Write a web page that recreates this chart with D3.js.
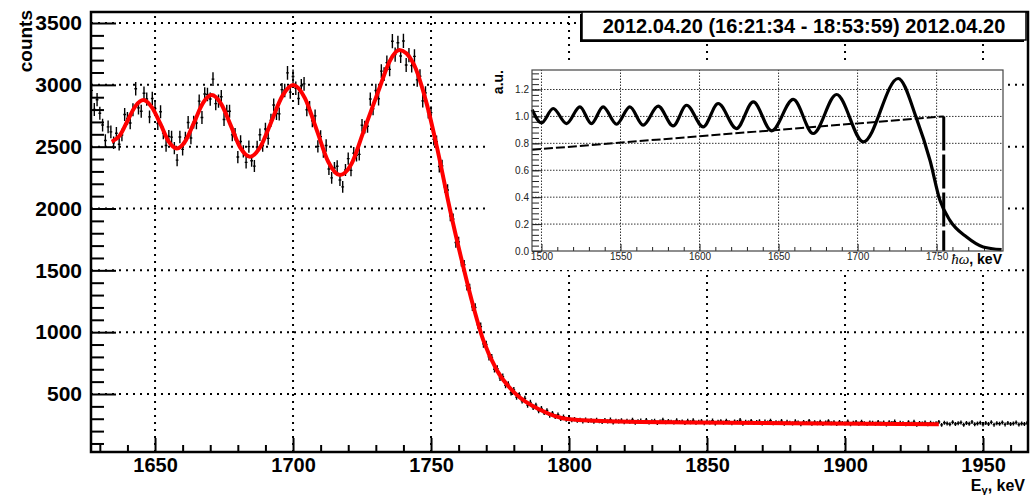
<!DOCTYPE html>
<html>
<head>
<meta charset="utf-8">
<script src="https://cdnjs.cloudflare.com/ajax/libs/d3/7.8.5/d3.min.js"></script>
<style>
    body { margin: 0; background: #fff; }
    svg { display: block; font-family: "Liberation Sans", Arial, Helvetica, sans-serif; }
</style>
</head>
<body>
<svg id="chart" width="1034" height="495"></svg>
<script>

// histogram, 1 keV bins, first bin centred at binStart
var binStart = 1627;
var countsData = [
    2955, 2800, 2880, 2770, 2675, 2550, 2660, 2620, 2531, 2608,
    2519, 2594, 2760, 2728, 2692, 2798, 2968, 2814, 2786, 2932,
    2885, 2741, 2890, 2809, 2687, 2782, 2611, 2509, 2583, 2577,
    2488, 2391, 2578, 2478, 2570, 2696, 2570, 2698, 2692, 2868,
    2736, 2926, 2922, 2885, 3046, 2848, 2869, 2904, 2720, 2786,
    2786, 2595, 2600, 2416, 2542, 2462, 2373, 2500, 2386, 2343,
    2497, 2596, 2508, 2643, 2567, 2714, 2837, 2768, 2765, 2961,
    2955, 3097, 2941, 3068, 2973, 2890, 2992, 3008, 2799, 2816,
    2710, 2749, 2502, 2581, 2461, 2510, 2319, 2248, 2327, 2342,
    2230, 2175, 2311, 2403, 2308, 2447, 2430, 2438, 2673, 2658,
    2665, 2885, 2807, 2954, 2887, 3111, 3086, 3180, 3125, 3353,
    3244, 3340, 3233, 3355, 3160, 3240, 3155, 3230, 3040, 3070,
    2870, 2935, 2780, 2775, 2560, 2540, 2340, 2345, 2175, 2150,
    1940, 1915, 1725, 1730, 1570, 1545, 1375, 1355, 1205, 1200,
    1060, 1045, 905, 900, 800, 795, 700, 705, 630, 640,
    570, 580, 510, 533, 475, 492, 445, 465, 410, 432,
    390, 410, 364, 384, 348, 366, 327, 344, 316, 333,
    300, 317, 293, 306,
    288, 296, 284, 291, 279, 293, 282, 287, 276, 290,
    281, 274, 289, 278, 292, 270, 284, 279, 286, 272,
    283, 276, 291, 268, 280, 285, 273, 288, 270, 279,
    284, 266, 277, 290, 271, 282, 275, 269, 286, 273,
    278, 265, 283, 272, 287, 268, 276, 281, 264, 279,
    270, 285, 262, 275, 280, 267, 284, 271, 263, 278,
    273, 288, 260, 276, 269, 282, 266, 274, 279, 261,
    277, 270, 284, 263, 272, 268, 281, 259, 275, 267,
    262, 279, 270, 256, 274, 266, 282, 260, 271, 264,
    276, 258, 269, 280, 263, 271, 257, 274, 266, 262,
    278, 255, 268, 273, 260, 276, 264, 258, 270, 267,
    259, 274, 262, 269, 254, 272, 265, 277, 257, 268,
    263, 256, 271, 260, 275, 252, 266, 262, 270, 255,
    268, 259, 264, 273, 250, 267, 261, 256, 272, 258,
    263, 270, 251, 266, 259, 274, 255, 262, 268, 253,
    265, 258, 271, 252, 264, 260, 269, 254, 266, 257,
    262, 270, 253, 261, 258, 266
];

// red fit curve
var fitEnergy = [1634.3, 1637.2, 1640, 1642.9, 1645.8, 1648.8, 1652, 1654.9, 1657.9, 1661.1,
    1664, 1667.4, 1670.5, 1674, 1677.5, 1680.9, 1684.4, 1688.3, 1692, 1696.2,
    1700.1, 1704.3, 1708.5, 1712.8, 1717, 1721, 1725.5, 1731.5, 1735, 1738.5,
    1743.6, 1748.4, 1752.1, 1756.9, 1761.1, 1764.7, 1768.9, 1773.8, 1780.5, 1789.5,
    1800, 1818, 1844, 1880, 1934];
var fitCounts = [2540, 2589, 2708, 2828, 2877, 2820, 2682, 2543, 2486, 2549,
    2688, 2854, 2917, 2844, 2668, 2492, 2419, 2504, 2694, 2913,
    2998, 2892, 2640, 2376, 2270, 2353, 2620, 2985, 3190, 3281,
    3174, 2850, 2500, 1988, 1583, 1260, 937, 694, 505, 372,
    295, 277, 270, 264, 256];

var mainXTicks = [1650, 1700, 1750, 1800, 1850, 1900, 1950];
var mainYTicks = [500, 1000, 1500, 2000, 2500, 3000, 3500];

// inset: response curve and the dashed line
var insetCurveEnergy = [1494.1, 1500, 1507.4, 1515.8, 1524.3, 1531.6, 1539.0, 1547.5, 1555.9, 1564.3,
    1573.8, 1583.3, 1591.8, 1602.3, 1611.8, 1623.4, 1634.0, 1645.6, 1659.3, 1671.9,
    1686.7, 1703.6, 1725.7, 1737.3, 1745.8, 1752.1, 1758.4, 1769.0, 1779.5, 1791.1];
var insetCurveValue = [1.051, 0.952, 1.059, 0.947, 1.071, 0.947, 1.071, 0.942, 1.071, 0.935,
    1.076, 0.930, 1.083, 0.922, 1.096, 0.910, 1.108, 0.893, 1.126, 0.873,
    1.163, 0.811, 1.282, 0.984, 0.674, 0.377, 0.228, 0.104, 0.030, 0.010];
var insetLineEnergy = [1494, 1754.5];
var insetLineValue = [0.752, 1.0];
var insetEdgeEnergy = 1754.5;

var insetXTicks = [1500, 1550, 1600, 1650, 1700, 1750];
var insetYTicks = [0, 0.2, 0.4, 0.6, 0.8, 1.0, 1.2];
var insetYTickLabels = ["0.0", "0.2", "0.4", "0.6", "0.8", "1.0", "1.2"];

var titleText = "2012.04.20 (16:21:34 - 18:53:59) 2012.04.20";


var svg = d3.select("#chart");

var frame = {left: 91, right: 1028, top: 12, bottom: 452};
var inset = {left: 532, right: 1003, top: 70, bottom: 251};

var x = d3.scaleLinear().domain([1626.8, 1966.3]).range([frame.left, frame.right]);
var y = d3.scaleLinear().domain([31, 3589]).range([frame.bottom, frame.top]);

var ix = d3.scaleLinear().domain([1494, 1792]).range([inset.left, inset.right]);
var iy = d3.scaleLinear().domain([0, 1.345]).range([inset.bottom, inset.top]);




/*
 *** Dotted grid of the main pad
 */
function drawMainGrid(){
    var grid = svg.append("g").attr("class", "mainGrid")
        .attr("stroke", "#000")
        .attr("stroke-width", 2)
        .attr("stroke-dasharray", "2,5");

    grid.selectAll(".vgrid").data(mainXTicks)
        .enter().append("line")
        .attr("class", "vgrid")
        .attr("x1", function(d){ return x(d); })
        .attr("x2", function(d){ return x(d); })
        .attr("y1", frame.bottom)
        .attr("y2", frame.top);

    grid.selectAll(".hgrid").data(mainYTicks)
        .enter().append("line")
        .attr("class", "hgrid")
        .attr("x1", frame.left)
        .attr("x2", frame.right)
        .attr("y1", function(d){ return y(d); })
        .attr("y2", function(d){ return y(d); });
}




/*
 *** Histogram drawn ROOT style: bin line plus sqrt(N) error bar, then the fit on top
 */
function drawSpectrum(){
    svg.append("clipPath").attr("id", "mainClip")
        .append("rect")
        .attr("x", frame.left).attr("y", frame.top)
        .attr("width", frame.right - frame.left)
        .attr("height", frame.bottom - frame.top);

    var p = d3.path();
    countsData.forEach(function(v, i){
        var c = binStart + i;
        var err = Math.sqrt(v);
        p.moveTo(x(c - 0.5), y(v));
        p.lineTo(x(c + 0.5), y(v));
        p.moveTo(x(c), y(v - err));
        p.lineTo(x(c), y(v + err));
    });

    svg.append("path")
        .attr("clip-path", "url(#mainClip)")
        .attr("d", p.toString())
        .attr("fill", "none")
        .attr("stroke", "#000")
        .attr("stroke-width", 1.4);

    var fitLine = d3.line()
        .x(function(d){ return x(d[0]); })
        .y(function(d){ return y(d[1]); })
        .curve(d3.curveMonotoneX);

    svg.append("path")
        .datum(d3.zip(fitEnergy, fitCounts))
        .attr("d", fitLine)
        .attr("fill", "none")
        .attr("stroke", "#ff0000")
        .attr("stroke-width", 4)
        .attr("stroke-linejoin", "round");
}




/*
 *** Frame, ticks and labels of the main pad
 */
function drawMainAxes(){
    var minorX = d3.range(1630, 1970, 10).filter(function(d){ return mainXTicks.indexOf(d) < 0; });
    var minorY = d3.range(100, 3600, 100).filter(function(d){ return mainYTicks.indexOf(d) < 0; });

    svg.append("g")
        .attr("transform", "translate(0," + frame.bottom + ")")
        .call(d3.axisBottom(x).tickValues(minorX).tickSize(-7).tickFormat(""))
        .call(function(g){ g.select(".domain").remove(); });

    var xAxis = svg.append("g")
        .attr("transform", "translate(0," + frame.bottom + ")")
        .call(d3.axisBottom(x).tickValues(mainXTicks).tickSize(-14).tickPadding(6).tickFormat(d3.format("d")))
        .call(function(g){ g.select(".domain").remove(); });

    svg.append("g")
        .attr("transform", "translate(" + frame.left + ",0)")
        .call(d3.axisLeft(y).tickValues(minorY).tickSize(-13).tickFormat(""))
        .call(function(g){ g.select(".domain").remove(); });

    var yAxis = svg.append("g")
        .attr("transform", "translate(" + frame.left + ",0)")
        .call(d3.axisLeft(y).tickValues(mainYTicks).tickSize(-25).tickPadding(9).tickFormat(d3.format("d")))
        .call(function(g){ g.select(".domain").remove(); });

    svg.selectAll(".tick line").attr("stroke", "#000").attr("stroke-width", 2);

    xAxis.selectAll("text")
        .attr("font-family", "'Liberation Sans', Arial, sans-serif")
        .attr("font-size", 20)
        .attr("font-weight", "bold")
        .attr("fill", "#000");
    yAxis.selectAll("text")
        .attr("font-family", "'Liberation Sans', Arial, sans-serif")
        .attr("font-size", 21)
        .attr("font-weight", "bold")
        .attr("fill", "#000");

    svg.append("rect")
        .attr("x", frame.left).attr("y", frame.top)
        .attr("width", frame.right - frame.left)
        .attr("height", frame.bottom - frame.top)
        .attr("fill", "none")
        .attr("stroke", "#000")
        .attr("stroke-width", 2.5);

    svg.append("text")
        .attr("transform", "translate(32,10) rotate(-90)")
        .attr("text-anchor", "end")
        .attr("font-size", 19)
        .attr("font-weight", "bold")
        .text("counts");

    var xTitle = svg.append("text")
        .attr("x", 1025).attr("y", 491)
        .attr("text-anchor", "end")
        .attr("font-size", 16)
        .attr("font-weight", "bold");
    xTitle.append("tspan").text("E");
    xTitle.append("tspan").attr("font-size", 11).attr("dy", 3).text("γ");
    xTitle.append("tspan").attr("dy", -3).text(", keV");
}




/*
 *** Inset pad with the response function
 */
function drawInset(){
    var g = svg.append("g").attr("class", "inset");

    g.append("rect")
        .attr("x", 486).attr("y", 63)
        .attr("width", 1008 - 486).attr("height", 270 - 63)
        .attr("fill", "#fff");

    var grid = g.append("g")
        .attr("stroke", "#333")
        .attr("stroke-width", 1)
        .attr("stroke-dasharray", "1.5,1.5");

    grid.selectAll(".ivgrid").data(insetXTicks)
        .enter().append("line")
        .attr("x1", function(d){ return ix(d); })
        .attr("x2", function(d){ return ix(d); })
        .attr("y1", inset.bottom).attr("y2", inset.top);

    grid.selectAll(".ihgrid").data(insetYTicks.slice(1))
        .enter().append("line")
        .attr("x1", inset.left).attr("x2", inset.right)
        .attr("y1", function(d){ return iy(d); })
        .attr("y2", function(d){ return iy(d); });

    var minorX = d3.range(1500, 1790, 10).filter(function(d){ return insetXTicks.indexOf(d) < 0; });
    var minorY = d3.range(0.04, 1.34, 0.04);

    g.append("g")
        .attr("transform", "translate(0," + inset.bottom + ")")
        .call(d3.axisBottom(ix).tickValues(minorX).tickSize(-4).tickFormat(""))
        .call(function(a){ a.select(".domain").remove(); });

    var ixAxis = g.append("g")
        .attr("transform", "translate(0," + inset.bottom + ")")
        .call(d3.axisBottom(ix).tickValues(insetXTicks).tickSize(-7).tickPadding(2).tickFormat(d3.format("d")))
        .call(function(a){ a.select(".domain").remove(); });

    g.append("g")
        .attr("transform", "translate(" + inset.left + ",0)")
        .call(d3.axisLeft(iy).tickValues(minorY).tickSize(-7).tickFormat(""))
        .call(function(a){ a.select(".domain").remove(); });

    var iyAxis = g.append("g")
        .attr("transform", "translate(" + inset.left + ",0)")
        .call(d3.axisLeft(iy).tickValues(insetYTicks).tickSize(-10).tickPadding(3)
            .tickFormat(function(d, i){ return insetYTickLabels[i]; }))
        .call(function(a){ a.select(".domain").remove(); });

    g.selectAll(".tick line").attr("stroke", "#222").attr("stroke-width", 1);
    [ixAxis, iyAxis].forEach(function(a){
        a.selectAll("text")
            .attr("font-family", "'Liberation Sans', Arial, sans-serif")
            .attr("font-size", 10)
            .attr("fill", "#222");
    });

    var straight = d3.line()
        .x(function(d){ return ix(d[0]); })
        .y(function(d){ return iy(d[1]); });

    var curve = d3.line()
        .x(function(d){ return ix(d[0]); })
        .y(function(d){ return iy(d[1]); })
        .curve(d3.curveMonotoneX);

    g.append("path")
        .datum(d3.zip(insetLineEnergy, insetLineValue))
        .attr("d", straight)
        .attr("fill", "none")
        .attr("stroke", "#000")
        .attr("stroke-width", 2)
        .attr("stroke-dasharray", "9,3");

    g.append("line")
        .attr("x1", ix(insetEdgeEnergy)).attr("x2", ix(insetEdgeEnergy))
        .attr("y1", iy(insetLineValue[1])).attr("y2", iy(0))
        .attr("stroke", "#000")
        .attr("stroke-width", 3)
        .attr("stroke-dasharray", "34,4");

    g.append("path")
        .datum(d3.zip(insetCurveEnergy, insetCurveValue))
        .attr("d", curve)
        .attr("fill", "none")
        .attr("stroke", "#000")
        .attr("stroke-width", 3.2)
        .attr("stroke-linejoin", "round");

    g.append("rect")
        .attr("x", inset.left).attr("y", inset.top)
        .attr("width", inset.right - inset.left)
        .attr("height", inset.bottom - inset.top)
        .attr("fill", "none")
        .attr("stroke", "#444")
        .attr("stroke-width", 1.2);

    g.append("text")
        .attr("transform", "translate(503,70) rotate(-90)")
        .attr("text-anchor", "end")
        .attr("font-size", 14)
        .attr("font-weight", "bold")
        .text("a.u.");

    var t = g.append("text")
        .attr("x", 1002).attr("y", 264)
        .attr("text-anchor", "end")
        .attr("font-size", 14)
        .attr("font-weight", "bold");
    t.append("tspan").attr("font-family", "'Liberation Serif', serif").attr("font-style", "italic")
        .attr("font-weight", "normal").attr("font-size", 15).text("ħω");
    t.append("tspan").text(", keV");
}




/*
 *** Title pave with shadow
 */
function drawTitle(){
    svg.append("rect")
        .attr("x", 580).attr("y", 14)
        .attr("width", 444).attr("height", 28)
        .attr("fill", "#000");
    svg.append("rect")
        .attr("x", 582).attr("y", 12)
        .attr("width", 444).attr("height", 28)
        .attr("fill", "#fff")
        .attr("stroke", "#000")
        .attr("stroke-width", 1.5);
    svg.append("text")
        .attr("x", 804).attr("y", 33)
        .attr("text-anchor", "middle")
        .attr("font-size", 20)
        .attr("font-weight", "bold")
        .text(titleText);
}


drawMainGrid();
drawSpectrum();
drawMainAxes();
drawInset();
drawTitle();

</script>
</body>
</html>
